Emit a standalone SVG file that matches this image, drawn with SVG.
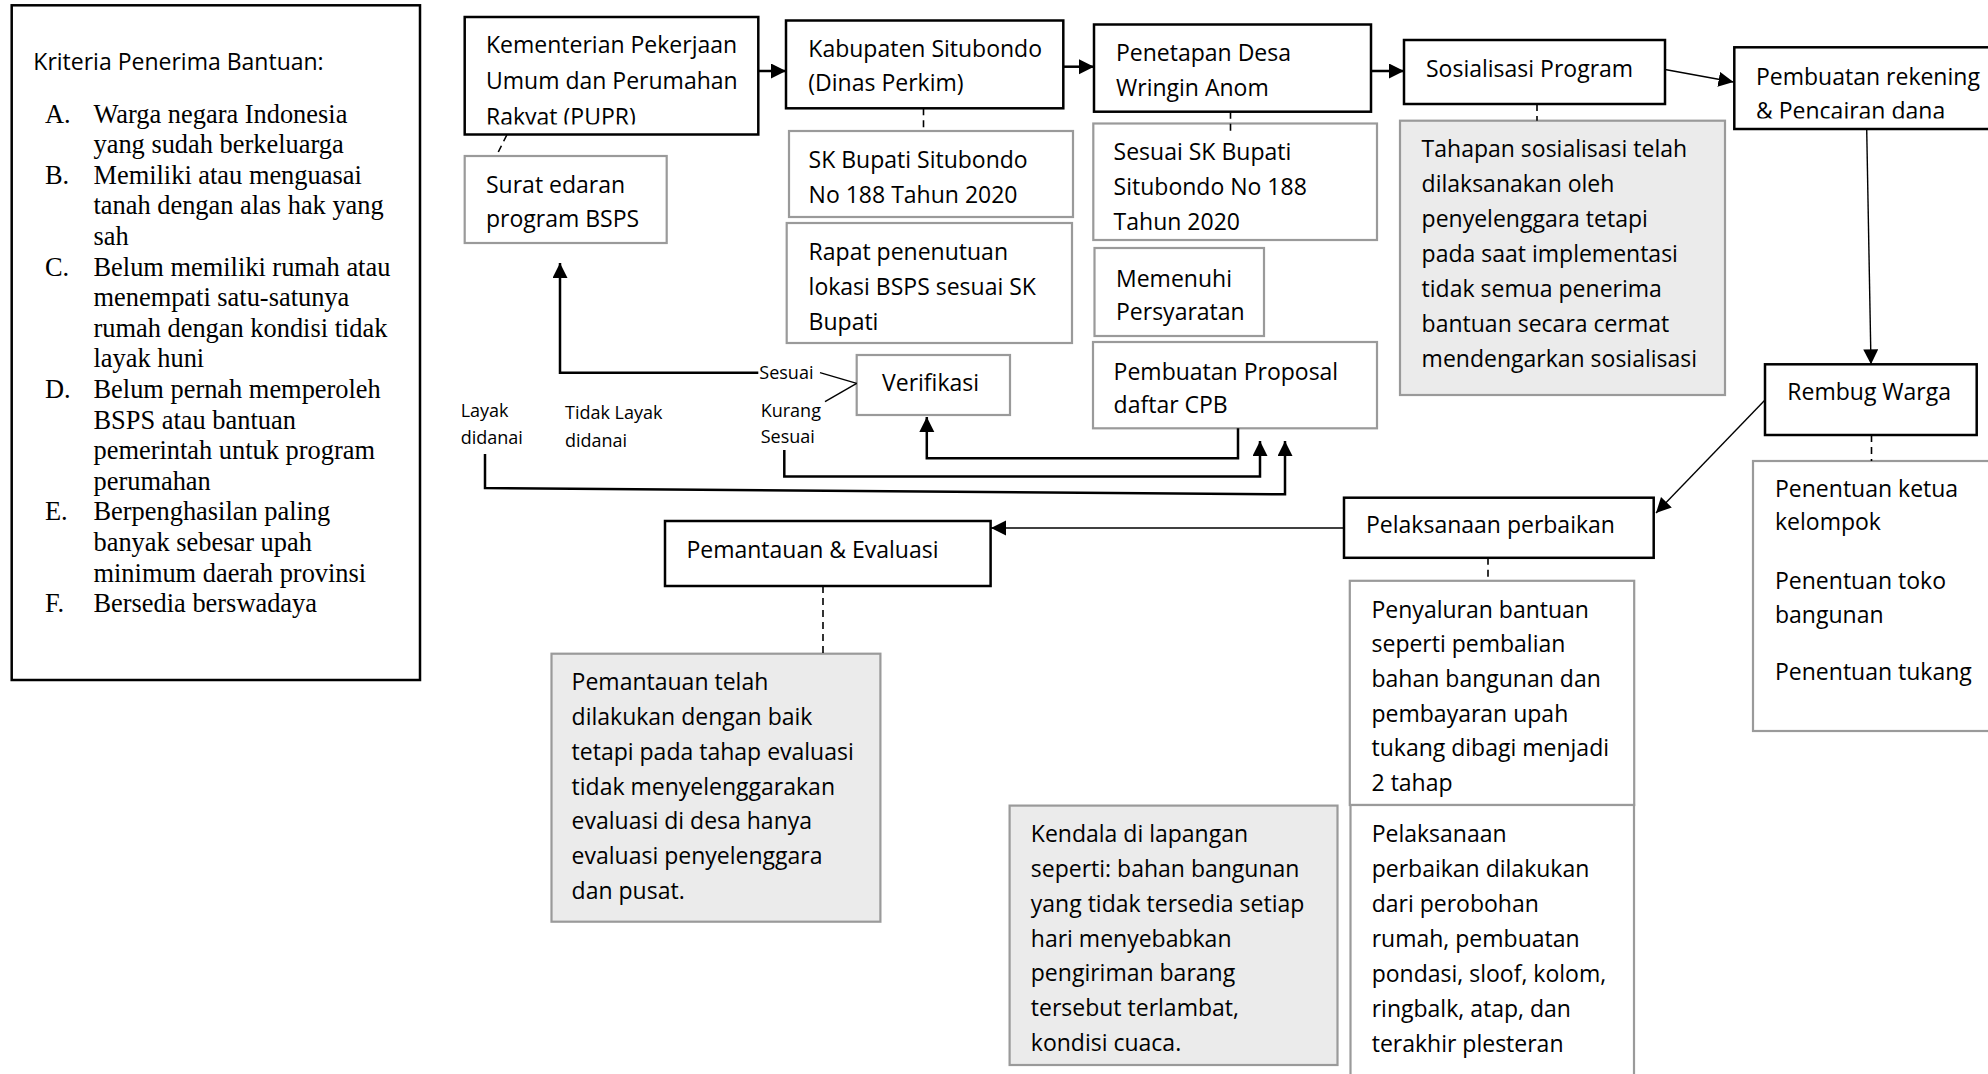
<svg xmlns="http://www.w3.org/2000/svg" width="1988" height="1074" viewBox="0 0 1988 1074">
<style>
.t{font-family:"Open Sans","Noto Sans",sans-serif;font-size:23px;fill:#000}
.s{font-family:"Open Sans","Noto Sans",sans-serif;font-size:18px;fill:#000}
.r{font-family:"Liberation Serif","Times New Roman",serif;font-size:26.4px;fill:#000}
.bk{fill:#fff;stroke:#000;stroke-width:2.5}
.gr{fill:#fff;stroke:#9a9a9a;stroke-width:2.2}
.gf{fill:#ebebeb;stroke:#9a9a9a;stroke-width:2.2}
.c{fill:none;stroke:#000;stroke-width:2.5}
.cn{fill:none;stroke:#000;stroke-width:1.4}
.d{fill:none;stroke:#000;stroke-width:1.6;stroke-dasharray:7 5}
</style>
<defs>
<marker id="ah" markerUnits="userSpaceOnUse" markerWidth="16" markerHeight="16" refX="15" refY="7.5" orient="auto">
<path d="M0,0 L15,7.5 L0,15 z" fill="#000"/>
</marker>
<clipPath id="clipKem"><rect x="464" y="16" width="296" height="108.5"/></clipPath>
<clipPath id="clipPem"><rect x="1734" y="46" width="260" height="72.5"/></clipPath>
</defs>
<rect width="1988" height="1074" fill="#fff"/>

<g id="kriteria">
<rect class="bk" x="11.7" y="5.3" width="408.3" height="674.7" stroke-width="2"/>
<text class="t" x="33.3" y="70">Kriteria Penerima Bantuan:</text>
<g class="r">
<text x="45" y="122.5">A.</text><text x="93.5" y="122.5">Warga negara Indonesia</text>
<text x="93.5" y="153.1">yang sudah berkeluarga</text>
<text x="45" y="183.7">B.</text><text x="93.5" y="183.7">Memiliki atau menguasai</text>
<text x="93.5" y="214.3">tanah dengan alas hak yang</text>
<text x="93.5" y="244.9">sah</text>
<text x="45" y="275.5">C.</text><text x="93.5" y="275.5">Belum memiliki rumah atau</text>
<text x="93.5" y="306.1">menempati satu-satunya</text>
<text x="93.5" y="336.7">rumah dengan kondisi tidak</text>
<text x="93.5" y="367.3">layak huni</text>
<text x="45" y="397.9">D.</text><text x="93.5" y="397.9">Belum pernah memperoleh</text>
<text x="93.5" y="428.5">BSPS atau bantuan</text>
<text x="93.5" y="459.1">pemerintah untuk program</text>
<text x="93.5" y="489.7">perumahan</text>
<text x="45" y="520.3">E.</text><text x="93.5" y="520.3">Berpenghasilan paling</text>
<text x="93.5" y="550.9">banyak sebesar upah</text>
<text x="93.5" y="581.5">minimum daerah provinsi</text>
<text x="45" y="612.1">F.</text><text x="93.5" y="612.1">Bersedia berswadaya</text>
</g>
</g>

<g id="kementerian">
<rect class="bk" x="464.7" y="17" width="293.6" height="117.5"/>
<g clip-path="url(#clipKem)">
<text class="t" x="486" y="53.3">Kementerian Pekerjaan</text>
<text class="t" x="486" y="89.3">Umum dan Perumahan</text>
<text class="t" x="486" y="124.8">Rakyat (PUPR)</text>
</g>
</g>

<g id="surat-edaran">
<rect class="gr" x="464.7" y="156" width="202" height="87"/>
<text class="t" x="486" y="192.7">Surat edaran</text>
<text class="t" x="486" y="226.7">program BSPS</text>
</g>

<g id="kabupaten">
<rect class="bk" x="786" y="20.5" width="277.3" height="87.8"/>
<text class="t" x="808.3" y="56.7">Kabupaten Situbondo</text>
<text class="t" x="808.3" y="91">(Dinas Perkim)</text>
</g>

<g id="sk-bupati">
<rect class="gr" x="789" y="131" width="284" height="86"/>
<text class="t" x="808.6" y="168">SK Bupati Situbondo</text>
<text class="t" x="808.6" y="203">No 188 Tahun 2020</text>
</g>

<g id="rapat">
<rect class="gr" x="786.7" y="223" width="285.3" height="120"/>
<text class="t" x="808.6" y="260">Rapat penenutuan</text>
<text class="t" x="808.6" y="295">lokasi BSPS sesuai SK</text>
<text class="t" x="808.6" y="330">Bupati</text>
</g>

<g id="verifikasi">
<rect class="gr" x="856.7" y="355" width="153.3" height="60"/>
<text class="t" x="882" y="391">Verifikasi</text>
</g>

<g id="penetapan">
<rect class="bk" x="1094" y="24.5" width="277" height="87.2"/>
<text class="t" x="1116" y="61">Penetapan Desa</text>
<text class="t" x="1116" y="95.7">Wringin Anom</text>
</g>

<g id="sesuai-sk">
<rect class="gr" x="1093.3" y="123.5" width="283.7" height="116.5"/>
<text class="t" x="1113.6" y="160">Sesuai SK Bupati</text>
<text class="t" x="1113.6" y="195">Situbondo No 188</text>
<text class="t" x="1113.6" y="230">Tahun 2020</text>
</g>

<g id="memenuhi">
<rect class="gr" x="1094.5" y="248" width="169.5" height="88"/>
<text class="t" x="1116" y="287">Memenuhi</text>
<text class="t" x="1116" y="320">Persyaratan</text>
</g>

<g id="proposal">
<rect class="gr" x="1093" y="342" width="284" height="86.3"/>
<text class="t" x="1113.6" y="380">Pembuatan Proposal</text>
<text class="t" x="1113.6" y="413">daftar CPB</text>
</g>

<g id="sosialisasi">
<rect class="bk" x="1404" y="40" width="261" height="64"/>
<text class="t" x="1426" y="76.5">Sosialisasi Program</text>
</g>

<g id="tahapan">
<rect class="gf" x="1400" y="120.7" width="325" height="274.3"/>
<text class="t" x="1421.6" y="156.7">Tahapan sosialisasi telah</text>
<text class="t" x="1421.6" y="191.7">dilaksanakan oleh</text>
<text class="t" x="1421.6" y="226.7">penyelenggara tetapi</text>
<text class="t" x="1421.6" y="261.7">pada saat implementasi</text>
<text class="t" x="1421.6" y="296.7">tidak semua penerima</text>
<text class="t" x="1421.6" y="331.7">bantuan secara cermat</text>
<text class="t" x="1421.6" y="366.7">mendengarkan sosialisasi</text>
</g>

<g id="pembuatan-rekening">
<rect class="bk" x="1734.3" y="47.3" width="270" height="81.7"/>
<g clip-path="url(#clipPem)">
<text class="t" x="1756" y="85">Pembuatan rekening</text>
<text class="t" x="1756" y="118.7">&amp; Pencairan dana</text>
</g>
</g>

<g id="rembug-warga">
<rect class="bk" x="1765" y="364.3" width="211.7" height="70.7"/>
<text class="t" x="1787.3" y="400">Rembug Warga</text>
</g>

<g id="penentuan">
<rect class="gr" x="1753" y="461" width="260" height="270"/>
<text class="t" x="1775" y="497.3">Penentuan ketua</text>
<text class="t" x="1775" y="530">kelompok</text>
<text class="t" x="1775" y="589.3">Penentuan toko</text>
<text class="t" x="1775" y="622.7">bangunan</text>
<text class="t" x="1775" y="680">Penentuan tukang</text>
</g>

<g id="pelaksanaan-perbaikan">
<rect class="bk" x="1344" y="497.7" width="309.7" height="60.1"/>
<text class="t" x="1366" y="533">Pelaksanaan perbaikan</text>
</g>

<g id="penyaluran">
<rect class="gr" x="1349.8" y="580.8" width="284.4" height="224.2"/>
<text class="t" x="1371.5" y="617.8">Penyaluran bantuan</text>
<text class="t" x="1371.5" y="652.4">seperti pembalian</text>
<text class="t" x="1371.5" y="687">bahan bangunan dan</text>
<text class="t" x="1371.5" y="721.6">pembayaran upah</text>
<text class="t" x="1371.5" y="756.3">tukang dibagi menjadi</text>
<text class="t" x="1371.5" y="791">2 tahap</text>
</g>

<g id="pelaksanaan-detail">
<rect class="gr" x="1350.5" y="805" width="283.5" height="290"/>
<text class="t" x="1371.7" y="841.7">Pelaksanaan</text>
<text class="t" x="1371.7" y="876.7">perbaikan dilakukan</text>
<text class="t" x="1371.7" y="911.7">dari perobohan</text>
<text class="t" x="1371.7" y="946.7">rumah, pembuatan</text>
<text class="t" x="1371.7" y="981.7">pondasi, sloof, kolom,</text>
<text class="t" x="1371.7" y="1016.7">ringbalk, atap, dan</text>
<text class="t" x="1371.7" y="1051.7">terakhir plesteran</text>
</g>

<g id="kendala">
<rect class="gf" x="1009.6" y="805.6" width="327.9" height="259.4"/>
<text class="t" x="1030.8" y="842.2">Kendala di lapangan</text>
<text class="t" x="1030.8" y="877">seperti: bahan bangunan</text>
<text class="t" x="1030.8" y="911.8">yang tidak tersedia setiap</text>
<text class="t" x="1030.8" y="946.6">hari menyebabkan</text>
<text class="t" x="1030.8" y="981.3">pengiriman barang</text>
<text class="t" x="1030.8" y="1016">tersebut terlambat,</text>
<text class="t" x="1030.8" y="1050.9">kondisi cuaca.</text>
</g>

<g id="pemantauan">
<rect class="bk" x="665" y="521" width="325.6" height="65"/>
<text class="t" x="686.4" y="557.8">Pemantauan &amp; Evaluasi</text>
</g>

<g id="pemantauan-detail">
<rect class="gf" x="551.5" y="653.7" width="328.9" height="268"/>
<text class="t" x="571.6" y="690">Pemantauan telah</text>
<text class="t" x="571.6" y="725">dilakukan dengan baik</text>
<text class="t" x="571.6" y="760">tetapi pada tahap evaluasi</text>
<text class="t" x="571.6" y="794.7">tidak menyelenggarakan</text>
<text class="t" x="571.6" y="829.4">evaluasi di desa hanya</text>
<text class="t" x="571.6" y="864">evaluasi penyelenggara</text>
<text class="t" x="571.6" y="899">dan pusat.</text>
</g>

<g id="connectors">
<line class="c" x1="758.3" y1="71" x2="786" y2="71" marker-end="url(#ah)"/>
<line class="c" x1="1063.3" y1="66.7" x2="1094" y2="66.7" marker-end="url(#ah)"/>
<line class="c" x1="1371" y1="71" x2="1404" y2="71" marker-end="url(#ah)"/>
<line class="cn" x1="1665" y1="69.5" x2="1733.5" y2="82" marker-end="url(#ah)"/>
<line class="cn" x1="1866.7" y1="129" x2="1871" y2="364.3" marker-end="url(#ah)"/>
<line class="cn" x1="1765" y1="400" x2="1656" y2="513" marker-end="url(#ah)"/>
<line class="cn" x1="1344" y1="528" x2="991" y2="528" marker-end="url(#ah)"/>

<line class="d" x1="506.8" y1="135" x2="496.3" y2="156"/>
<line class="d" x1="923.5" y1="108.3" x2="923.5" y2="131"/>
<line class="d" x1="1230.5" y1="111.7" x2="1230.5" y2="131"/>
<line class="d" x1="1537" y1="104" x2="1537" y2="120.7"/>
<line class="d" x1="1871.5" y1="435" x2="1871.5" y2="461"/>
<line class="d" x1="1488" y1="557.8" x2="1488" y2="580.8"/>
<line class="d" x1="823" y1="586" x2="823" y2="653.7"/>

<polyline class="c" points="758.3,372.7 560,372.7 560,263" marker-end="url(#ah)"/>
<line class="cn" x1="820" y1="372.7" x2="856.7" y2="383.3"/>
<line class="cn" x1="825" y1="401.7" x2="856.7" y2="383.3"/>
<polyline class="c" points="1238,428.3 1238,458.3 926.8,458.3 926.8,417" marker-end="url(#ah)"/>
<polyline class="c" points="784.3,450 784.3,476.5 1260,476.5 1260,441" marker-end="url(#ah)"/>
<polyline class="c" points="485,454 485,488 1285,494.3 1285,441" marker-end="url(#ah)"/>
</g>

<g id="labels">
<text class="s" x="759.3" y="379.3">Sesuai</text>
<text class="s" x="760.7" y="417.3">Kurang</text>
<text class="s" x="760.7" y="443.3">Sesuai</text>
<text class="s" x="460.7" y="417.3">Layak</text>
<text class="s" x="460.7" y="444.3">didanai</text>
<text class="s" x="565" y="419.3">Tidak Layak</text>
<text class="s" x="565" y="446.7">didanai</text>
</g>
</svg>
